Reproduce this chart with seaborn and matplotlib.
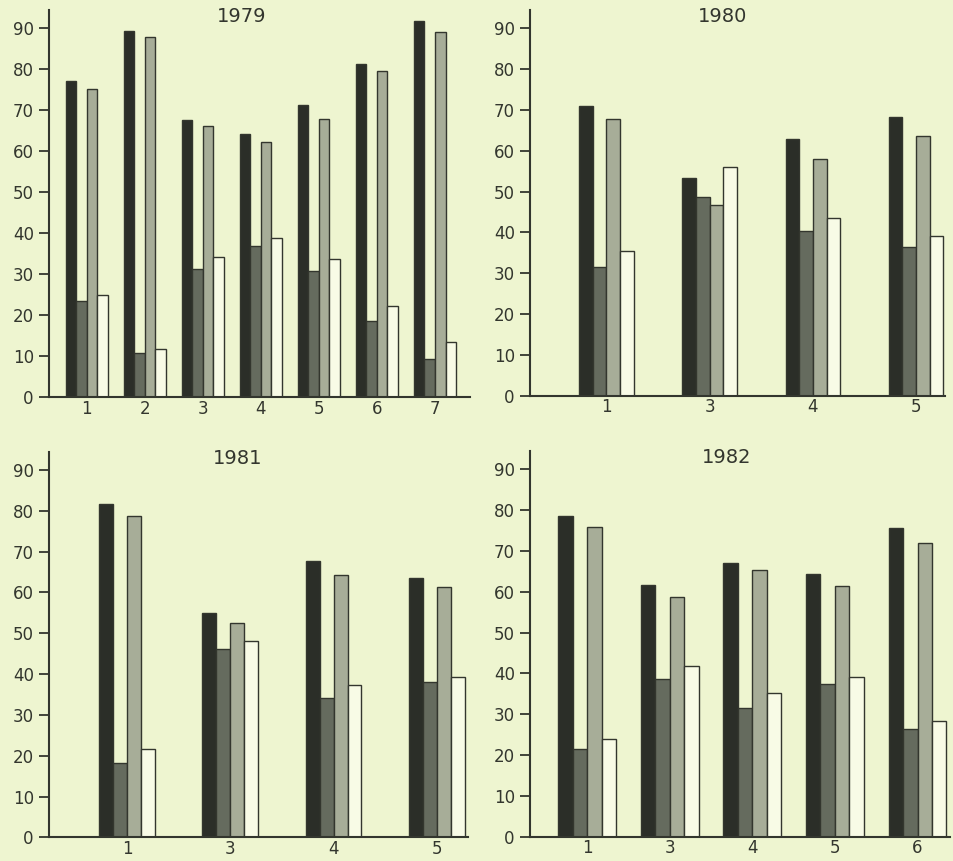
import pandas as pd
import seaborn as sns
import matplotlib.pyplot as plt

# 各年份的类别
cats_1979 = ['1', '2', '3', '4', '5', '6', '7']
cats_1980 = ['1', '3', '4', '5']
cats_1981 = ['1', '3', '4', '5']
cats_1982 = ['1', '3', '4', '5', '6']

# 四个系列的数值
a_1979 = [77.1, 89.4, 67.7, 64.1, 71.2, 81.3, 91.9]
b_1979 = [23.4, 10.8, 31.2, 36.9, 30.8, 18.5, 9.2]
c_1979 = [75.3, 87.9, 66.2, 62.3, 67.8, 79.6, 89.0]
d_1979 = [25.0, 11.6, 34.2, 38.8, 33.6, 22.1, 13.3]

a_1980 = [71.0, 53.3, 62.8, 68.2]
b_1980 = [31.5, 48.8, 40.4, 36.4]
c_1980 = [67.8, 46.7, 57.9, 63.7]
d_1980 = [35.5, 56.1, 43.6, 39.1]

a_1981 = [81.7, 54.9, 67.7, 63.5]
b_1981 = [18.3, 46.2, 34.2, 38.0]
c_1981 = [78.8, 52.6, 64.3, 61.4]
d_1981 = [21.6, 48.0, 37.2, 39.2]

a_1982 = [78.6, 61.6, 67.1, 64.3, 75.7]
b_1982 = [21.4, 38.6, 31.6, 37.3, 26.3]
c_1982 = [75.9, 58.7, 65.3, 61.3, 71.9]
d_1982 = [23.9, 41.8, 35.3, 39.2, 28.4]

series = ['A', 'B', 'C', 'D']
bar_colors = ['#2b2e28', '#656b5e', '#a7ad98', '#f8fbe6']
bg = '#eef5d0'
ink = '#33362e'


def make_df(cats, a, b, c, d):
    df = pd.DataFrame({'cat': cats, 'A': a, 'B': b, 'C': c, 'D': d})
    return df.melt(id_vars='cat', var_name='series', value_name='value')


panels = [
    ('1979', make_df(cats_1979, a_1979, b_1979, c_1979, d_1979),
     [0.0514, 0.539, 0.441, 0.4495], 0.73, (-0.65, 6.6), 0.458),
    ('1980', make_df(cats_1980, a_1980, b_1980, c_1980, d_1980),
     [0.5556, 0.5404, 0.435, 0.448], 0.53, (-0.74, 3.28), 0.465),
    ('1981', make_df(cats_1981, a_1981, b_1981, c_1981, d_1981),
     [0.0514, 0.0275, 0.439, 0.448], 0.54, (-0.755, 3.3), 0.451),
    ('1982', make_df(cats_1982, a_1982, b_1982, c_1982, d_1982),
     [0.5556, 0.0283, 0.440, 0.448], 0.70, (-0.69, 4.39), 0.469),
]

sns.set_style("ticks")
plt.rcParams['font.family'] = ['DejaVu Sans']

fig = plt.figure(figsize=(9.54, 8.61), dpi=100)
fig.patch.set_facecolor(bg)

for title, df, rect, w, xlim, tx in panels:
    ax = fig.add_axes(rect)
    ax.set_facecolor(bg)
    sns.barplot(data=df, x='cat', y='value', hue='series', hue_order=series,
                palette=bar_colors, width=w, saturation=1, edgecolor=ink,
                linewidth=1.0, legend=False, ax=ax)
    ax.set_xlim(*xlim)
    ax.set_ylim(0, 94.5)
    ax.set_yticks(range(0, 91, 10))
    ax.set_xlabel('')
    ax.set_ylabel('')
    sns.despine(ax=ax)
    for sp in ['left', 'bottom']:
        ax.spines[sp].set_color(ink)
        ax.spines[sp].set_linewidth(1.5)
    ax.tick_params(axis='y', length=7, width=1.3, color=ink, labelcolor=ink,
                   labelsize=12, pad=4)
    ax.tick_params(axis='x', length=0, labelcolor=ink, labelsize=12, pad=2)
    ax.text(tx, 0.982, title, transform=ax.transAxes, ha='center', va='center',
            fontsize=14, color=ink)

plt.savefig('out.png', dpi=100, facecolor=bg)
